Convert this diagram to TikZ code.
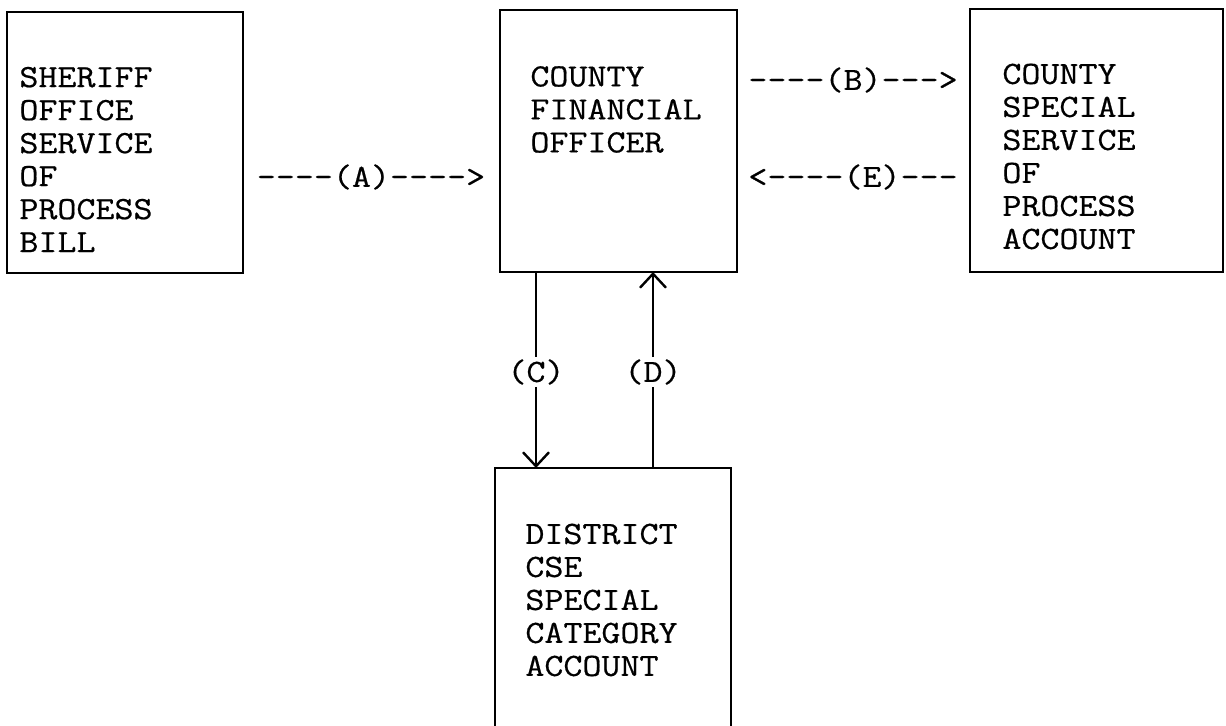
\documentclass[tikz,border=0pt]{standalone}
\usepackage{fontspec}
\newfontfamily\monofont{Latin Modern Mono}[FakeStretch=1.14,FakeBold=0.6]
\usetikzlibrary{arrows.meta,fit}
\begin{document}
\begin{tikzpicture}[x=0.5pt,y=-0.5pt,
  box/.style={draw, line width=1.2pt, inner sep=0pt},
  txt/.style={font=\monofont\fontsize{16.2pt}{16.5pt}\selectfont, align=left, inner sep=0pt, anchor=west},
  lab/.style={font=\monofont\fontsize{16.2pt}{16.5pt}\selectfont, inner sep=1pt},
  flow/.style={line width=1pt, -{Straight Barb[length=7pt,width=13pt,line width=1.2pt]}}]
\clip (0,0) rectangle (1226,726);
\fill[white] (0,0) rectangle (1226,726);
% boxes
\node[box, fit={(7,12) (243,273)}] (sheriff) {};
\node[box, fit={(500,10) (737,272)}] (cfo) {};
\node[box, fit={(970,9) (1223,272)}] (cssp) {};
\node[box, fit={(495,468) (731,780)}] (dist) {};
% box texts
\node[txt] (t1) at (19,159.5) {SHERIFF\\OFFICE\\SERVICE\\OF\\PROCESS\\BILL};
\node[txt] (t2) at (530,109.5) {COUNTY\\FINANCIAL\\OFFICER};
\node[txt] (t3) at (1002,156.5) {COUNTY\\SPECIAL\\SERVICE\\OF\\PROCESS\\ACCOUNT};
\node[txt] (t4) at (525,600) {DISTRICT\\CSE\\SPECIAL\\CATEGORY\\ACCOUNT};
% typed dashed arrows
\node[lab] (A) at (371,177) {----(A)---->};
\node[lab] (B) at (853,80) {----(B)--->};
\node[lab] (E) at (853,177) {<----(E)---};
% vertical connectors
\node[lab] (C) at (536,372) {(C)};
\node[lab] (D) at (653,372) {(D)};
\coordinate (c1) at (536,272);
\coordinate (c2) at (536,468);
\coordinate (d1) at (653,468);
\coordinate (d2) at (653,272);
\draw[line width=1pt] (c1) -- (C.north);
\draw[flow] (C.south) -- (c2);
\draw[line width=1pt] (d1) -- (D.south);
\draw[flow] (D.north) -- (d2);
\end{tikzpicture}
\end{document}
